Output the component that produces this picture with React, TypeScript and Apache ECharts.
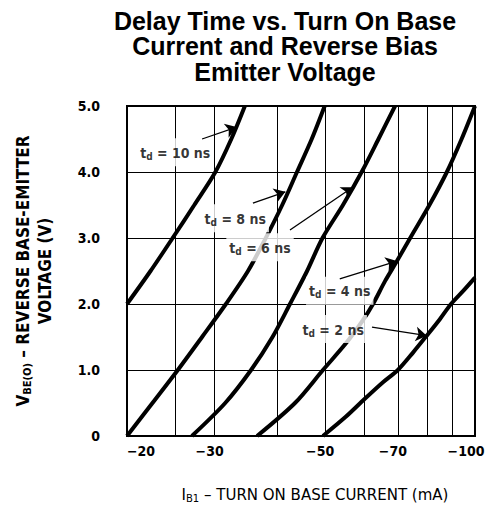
import React, { useEffect, useRef } from "react";
import * as echarts from "echarts";

const titleLines = ["Delay Time vs. Turn On Base", "Current and Reverse Bias", "Emitter Voltage"];
const xTickValues = [20, 30, 50, 70, 100];
const xGridValues = [25, 30, 40, 50, 60, 70, 80, 90];

const curve10 = [[20, 2.0], [22.3, 2.5], [24.7, 3.0], [27.3, 3.5], [30.1, 4.0], [32.4, 4.5], [34.5, 5.0]];
const curve8 = [[20, 0], [22.5, 0.5], [25.3, 1.0], [28.3, 1.5], [31.6, 2.0], [35, 2.5], [38, 3.0], [41, 3.5], [43.9, 4.0], [47, 4.5], [49.9, 5.0]];
const curve6 = [[27, 0], [31.5, 0.5], [35.5, 1.0], [39.2, 1.5], [42.5, 2.0], [46, 2.5], [49.4, 3.0], [54.3, 3.5], [59.2, 4.0], [64, 4.5], [69.1, 5.0]];
const curve4 = [[36.5, 0], [43.5, 0.5], [49.5, 1.0], [55, 1.4], [59.5, 1.75], [62.4, 2.0], [66, 2.35], [69.7, 2.65], [74.1, 3.0], [81, 3.5], [87.8, 4.0], [94, 4.5], [100, 5.0]];
const curve2 = [[49.5, 0], [55, 0.29], [60, 0.56], [65, 0.8], [70, 1.0], [75, 1.26], [80, 1.52], [85, 1.77], [89.5, 2.0], [95, 2.21], [100, 2.4]];

const labelNames = ["10", "8", "6", "4", "2"];
const labelPos = [[25, 4.3], [33, 3.3], [37, 2.86], [53.5, 2.2], [51.9, 1.62]];
const arrowStart = [[28.3, 4.5], [35.8, 3.53], [42.5, 3.12], [53.5, 2.38], [62.1, 1.65]];
const arrowEnd = [[33.2, 4.68], [41.6, 3.7], [56.8, 3.77], [69.7, 2.65], [80, 1.52]];

const COND = "'Liberation Sans Narrow', 'DejaVu Sans Condensed', 'Roboto Condensed', sans-serif";

export default function App() {
  const ref = useRef<HTMLDivElement>(null);
  useEffect(() => {
    if (!ref.current) return;
    const chart = echarts.init(ref.current, null, { renderer: "svg" });
    const curves = [curve10, curve8, curve6, curve4, curve2];
    const curveSeries = curves.map((d, i) => ({
      type: "line",
      name: "td=" + labelNames[i],
      data: d,
      smooth: 0.3,
      showSymbol: false,
      z: 3,
      lineStyle: { color: "#000", width: 4 },
      silent: true,
    }));
    const option: any = {
      animation: false,
      graphic: titleLines.map((t, i) => ({
        type: "text",
        x: 285,
        y: 8 + i * 25.5,
        style: {
          text: t,
          fill: "#000",
          font: "bold 25px 'Liberation Sans', Arial, sans-serif",
          textAlign: "center",
          textVerticalAlign: "top",
        },
      })),
      grid: {
        left: 127,
        right: 20,
        top: 106,
        bottom: 71,
        show: true,
        borderColor: "#000",
        borderWidth: 2,
        backgroundColor: "#fff",
      },
      xAxis: {
        type: "log",
        logBase: 10,
        min: 20,
        max: 100,
        name: "I{s|B1} – TURN ON BASE CURRENT (mA)",
        nameLocation: "middle",
        nameGap: 50,
        nameTextStyle: {
          color: "#000",
          fontFamily: "'DejaVu Sans', sans-serif",
          fontSize: 15,
          padding: [0, 0, 0, 28],
          rich: {
            s: { fontSize: 10, padding: [7, 0, 0, 0], fontFamily: "'DejaVu Sans', sans-serif", color: "#000" },
          },
        },
        axisLine: { show: true, lineStyle: { color: "#000", width: 2 } },
        axisTick: { show: false },
        splitLine: { show: false },
        axisLabel: {
          customValues: xTickValues,
          color: "#000",
          fontFamily: COND,
          fontWeight: "bold",
          fontSize: 14,
          margin: 8,
          alignMinLabel: "left",
          formatter: (v: number) => {
            const r = Math.round(v);
            if (r === 20) return "{a|−20}";
            if (r === 100) return "{c|−100}";
            return "{b|−" + r + "}";
          },
          rich: {
            a: { fontFamily: COND, fontWeight: "bold", fontSize: 14, color: "#000" },
            b: { fontFamily: COND, fontWeight: "bold", fontSize: 14, color: "#000", padding: [0, 10, 0, 0] },
            c: { fontFamily: COND, fontWeight: "bold", fontSize: 14, color: "#000", padding: [0, 18, 0, 0] },
          },
        },
      },
      yAxis: {
        type: "value",
        min: 0,
        max: 5,
        interval: 1,
        name: "V{s|BE(O)} – REVERSE BASE-EMITTER\nVOLTAGE (V)",
        nameLocation: "middle",
        nameGap: 71,
        nameTextStyle: {
          color: "#000",
          fontFamily: COND,
          fontWeight: "bold",
          fontSize: 17,
          lineHeight: 22,
          rich: {
            s: { fontSize: 11, padding: [8, 0, 0, 0], fontFamily: COND, fontWeight: "bold", color: "#000" },
          },
        },
        axisLine: { show: true, lineStyle: { color: "#000", width: 2 } },
        axisTick: { show: false },
        splitLine: { show: true, lineStyle: { color: "#000", width: 1 } },
        axisLabel: {
          color: "#000",
          fontFamily: COND,
          fontWeight: "bold",
          fontSize: 14,
          margin: 27,
          formatter: (v: number) => (v === 0 ? "0" : v.toFixed(1)),
        },
      },
      series: [
        {
          type: "line",
          name: "grid",
          data: [],
          z: 1,
          silent: true,
          markLine: {
            silent: true,
            symbol: ["none", "none"],
            z: 1,
            label: { show: false },
            lineStyle: { color: "#000", width: 1, type: "solid" },
            emphasis: { disabled: true },
            data: xGridValues.map((v) => ({ xAxis: v })),
          },
        },
        ...curveSeries,
        {
          type: "scatter",
          name: "labels",
          z: 10,
          symbolSize: 0,
          silent: true,
          data: labelPos.map((p, i) => ({ value: p, name: labelNames[i] })),
          label: {
            show: true,
            position: "inside",
            formatter: (p: any) => "{t|t}{s|d}{t| = " + p.name + " ns}",
            backgroundColor: "#fff",
            padding: [6, 3, 5, 3],
            rich: {
              t: { fontFamily: COND, fontWeight: "bold", fontSize: 14, color: "#000" },
              s: { fontFamily: COND, fontWeight: "bold", fontSize: 10, color: "#000", padding: [7, 0, 0, 0] },
            },
          },
        },
        {
          type: "line",
          name: "arrows",
          data: [],
          z: 11,
          silent: true,
          itemStyle: { color: "#000" },
          markLine: {
            silent: true,
            z: 11,
            symbol: ["none", "arrow"],
            symbolSize: 11,
            label: { show: false },
            lineStyle: { color: "#000", width: 1.3, type: "solid" },
            itemStyle: { color: "#000" },
            emphasis: { disabled: true },
            data: arrowStart.map((s, i) => [{ coord: s }, { coord: arrowEnd[i] }]),
          },
        },
      ],
    };
    chart.setOption(option);
    return () => chart.dispose();
  }, []);
  return (
    <div
      ref={ref}
      style={{ position: "fixed", left: 0, top: 0, width: 495, height: 508, background: "#fff" }}
    />
  );
}
